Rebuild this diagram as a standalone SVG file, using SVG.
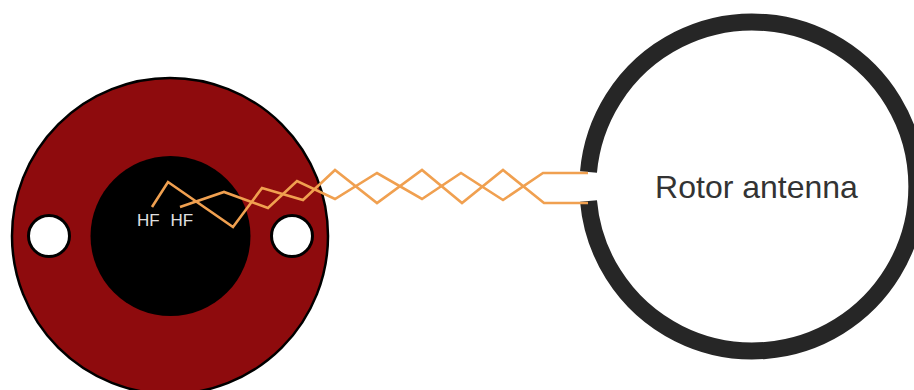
<svg xmlns="http://www.w3.org/2000/svg" width="914" height="390" viewBox="0 0 914 390">
<style>
.wire{fill:none;stroke:#f0a050;stroke-width:2.6;stroke-linejoin:miter}
.hole{fill:#fff;stroke:#000;stroke-width:3}
.hf{font-family:"Liberation Sans",Arial,sans-serif;font-size:17px;fill:#e0e0e0}
</style>
<rect width="914" height="390" fill="#fff"/>
<g id="connector-body">
<circle cx="170" cy="236" r="158" fill="#8e0b0d" stroke="#000" stroke-width="2.5"/>
<circle cx="170.500" cy="236" r="80" fill="#000"/>
</g>
<g id="hole-left"><circle class="hole" cx="49" cy="236" r="20.500"/></g>
<g id="hole-right"><circle class="hole" cx="292" cy="236" r="20.500"/></g>
<g id="hf-left"><text class="hf" x="137" y="225.500">HF</text></g>
<g id="hf-right"><text class="hf" x="170.500" y="225.500">HF</text></g>
<g id="rotor-antenna">
<path d="M588.500 172A164.500 164.500 0 1 1 588.500 201" fill="none" stroke="#262626" stroke-width="17"/>
<text x="756.500" y="198" text-anchor="middle" font-family="'Liberation Sans',Arial,sans-serif" font-size="32" fill="#333">Rotor antenna</text>
</g>
<g id="connectors">
<polyline class="wire" points="152,207 168,182 233,227 262,188 303,200 335,170 377,203 422,170 462,203 503,170 544,203 588,203"/>
<polyline class="wire" points="180,207 224,192 268,208 297,181 335,199 377,173 422,199 461,173 503,200 543,173 588,173"/>
</g>
</svg>
